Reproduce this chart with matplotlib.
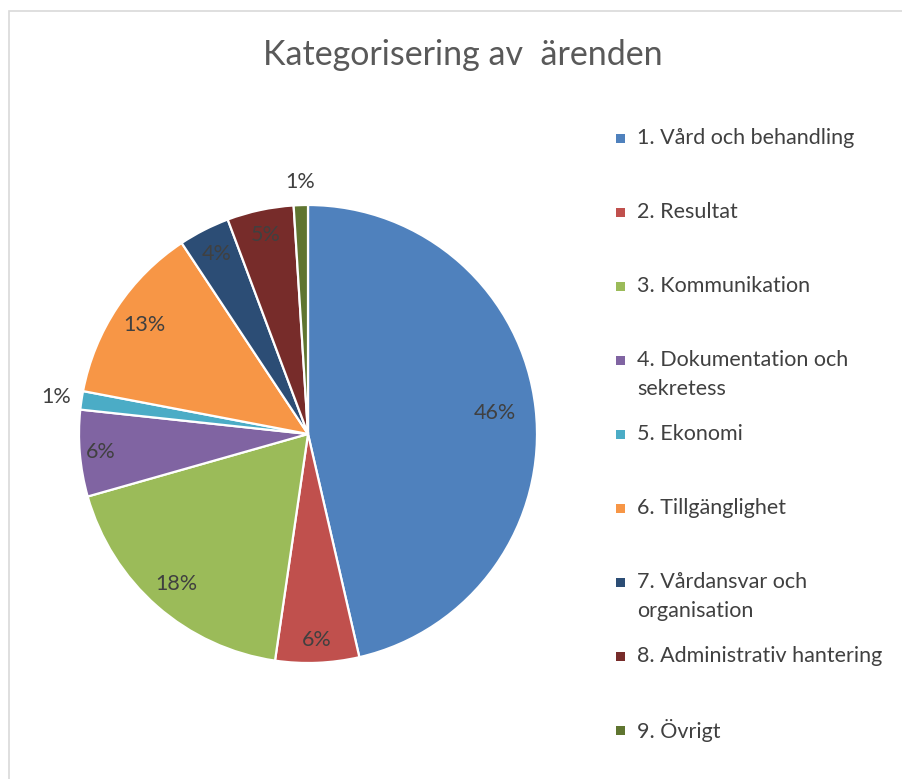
import matplotlib
matplotlib.use("Agg")
import matplotlib.pyplot as plt
from matplotlib.patches import Rectangle
import numpy as np

plt.rcParams['font.family'] = ['Lato', 'DejaVu Sans']

title = "Kategorisering av  ärenden"
categories = ["1. Vård och behandling", "2. Resultat", "3. Kommunikation",
              "4. Dokumentation och\nsekretess", "5. Ekonomi", "6. Tillgänglighet",
              "7. Vårdansvar och\norganisation", "8. Administrativ hantering", "9. Övrigt"]
values = [46.4, 5.9, 18.3, 6.1, 1.3, 12.7, 3.6, 4.7, 1.0]
colors = ["#4F81BD", "#C0504D", "#9BBB59", "#8064A2", "#4BACC6",
          "#F79646", "#2C4D75", "#772C2A", "#5F7530"]

# label radial positions (fraction of radius)
label_r = [0.82, 0.90, 0.87, 0.91, 1.11, 0.86, 0.88, 0.89, 1.10]

W, H = 903, 779
fig = plt.figure(figsize=(W / 100, H / 100), dpi=100)
ax = fig.add_axes([0, 0, 1, 1])

# chart border
ax.add_patch(Rectangle((9, -20), W + 40, H - 11 + 20, fill=False,
                       edgecolor="#D9D9D9", linewidth=1.2))

cx, cy, R = 308, H - 434, 229
wedges, _ = ax.pie(values, colors=colors, startangle=90, counterclock=False,
                   center=(cx, cy), radius=R, frame=True,
                   wedgeprops=dict(edgecolor="white", linewidth=1.6))
ax.set_xlim(0, W)
ax.set_ylim(0, H)
ax.axis('off')

fs = 15.5
for w, v, rf in zip(wedges, values, label_r):
    mid = np.deg2rad((w.theta1 + w.theta2) / 2)
    ax.text(cx + rf * R * np.cos(mid), cy + rf * R * np.sin(mid), f"{round(v)}%",
            ha='center', va='center', fontsize=fs, color="#404040")

fig.text(463 / W, 1 - 55 / H, title, ha='center', va='center',
         fontsize=24.5, color="#595959")

# legend
lx, ly0, step = 621, 138, 74
for i, (lab, c) in enumerate(zip(categories, colors)):
    y = ly0 + i * step
    ax.add_patch(Rectangle((lx - 4.5, H - y - 4.5), 9, 9, facecolor=c, edgecolor='none'))
    for j, line in enumerate(lab.split('\n')):
        ax.text(lx + 16, H - y - 29 * j, line, ha='left', va='center',
                fontsize=fs, color="#404040")

fig.savefig("out.png", dpi=100, facecolor="white")
